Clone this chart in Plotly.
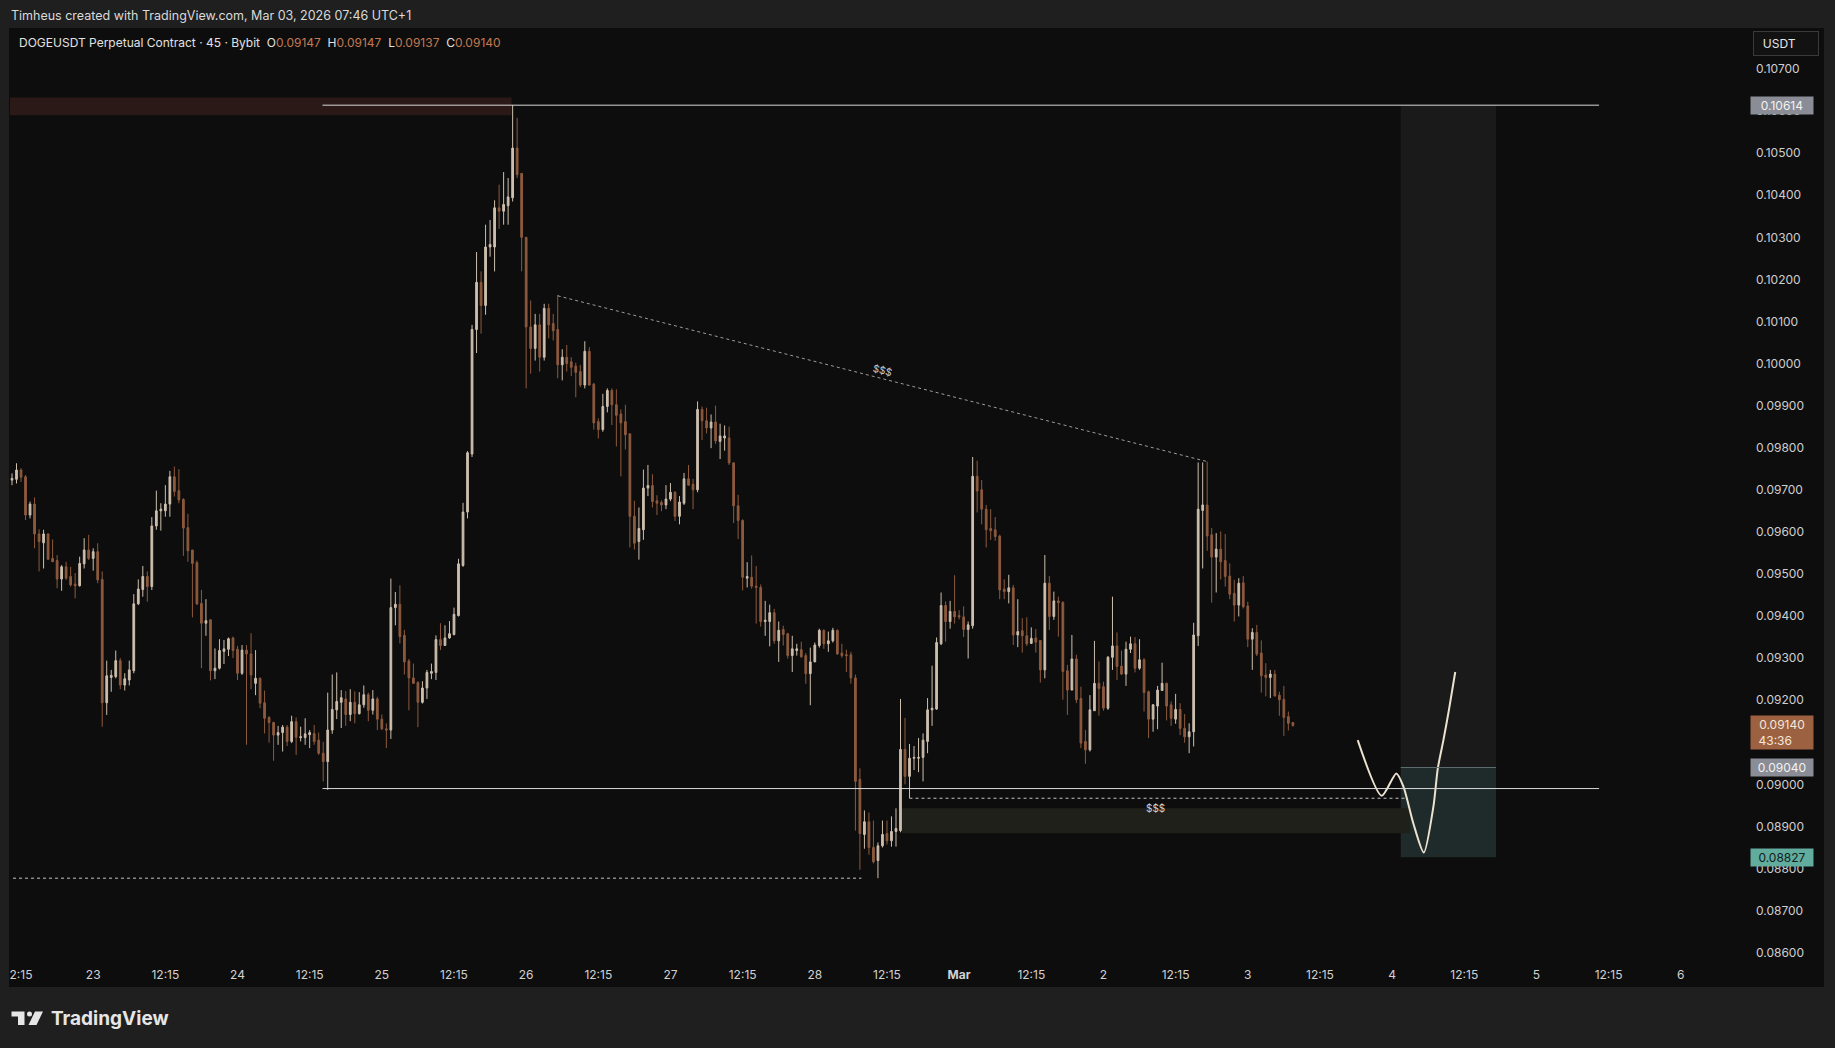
import pandas as pd
import plotly.graph_objects as go

# ---------------- DATA (prices in units of 0.00001 USDT) ----------------
open_v = [
    9723, 9725, 9747, 9731, 9640, 9666, 9595, 9574, 9595, 9537,
    9532, 9488, 9517, 9494, 9476, 9472, 9524, 9557, 9537, 9553,
    9487, 9194, 9254, 9256, 9294, 9236, 9248, 9270, 9429, 9463,
    9494, 9470, 9614, 9650, 9650, 9666, 9731, 9698, 9677, 9610,
    9557, 9527, 9430, 9383, 9391, 9270, 9276, 9316, 9321, 9348,
    9321, 9264, 9319, 9310, 9240, 9252, 9194, 9159, 9147, 9117,
    9123, 9136, 9102, 9149, 9111, 9111, 9118, 9121, 9105, 9074,
    9054, 9129, 9177, 9195, 9203, 9166, 9195, 9168, 9189, 9213,
    9176, 9203, 9155, 9132, 9129, 9420, 9428, 9354, 9293, 9253,
    9242, 9195, 9229, 9264, 9266, 9344, 9330, 9348, 9356, 9401,
    9520, 9647, 9785, 10081, 10193, 10138, 10277, 10277, 10370, 10362,
    10375, 10394, 10512, 10452, 10300, 10087, 10036, 10092, 10015, 10131,
    10095, 10081, 9997, 10015, 10004, 9994, 9981, 9949, 10029, 9951,
    9862, 9843, 9898, 9936, 9902, 9880, 9862, 9833, 9637, 9577,
    9605, 9704, 9710, 9674, 9670, 9664, 9678, 9694, 9637, 9668,
    9726, 9713, 9700, 9891, 9864, 9847, 9861, 9815, 9823, 9823,
    9764, 9662, 9627, 9490, 9492, 9471, 9468, 9387, 9387, 9408,
    9341, 9368, 9358, 9306, 9318, 9320, 9306, 9263, 9291, 9330,
    9366, 9334, 9341, 9366, 9312, 9308, 9308, 9253, 9012, 8881,
    8911, 8850, 8819, 8854, 8883, 8866, 8888, 8890, 9083, 9019,
    9062, 9062, 9064, 9102, 9177, 9179, 9334, 9425, 9387, 9411,
    9401, 9398, 9368, 9377, 9732, 9700, 9654, 9608, 9605, 9590,
    9464, 9458, 9467, 9355, 9365, 9353, 9335, 9348, 9342, 9272,
    9478, 9399, 9436, 9433, 9270, 9224, 9298, 9204, 9102, 9082,
    9175, 9240, 9232, 9181, 9302, 9329, 9281, 9262, 9321, 9334,
    9276, 9296, 9220, 9155, 9186, 9223, 9240, 9189, 9155, 9178,
    9133, 9113, 9125, 9353, 9651, 9664, 9593, 9540, 9559, 9532,
    9495, 9454, 9426, 9479, 9424, 9345, 9361, 9312, 9260, 9254,
    9262, 9212, 9202, 9161, 9147,
]
high_v = [
    9739, 9763, 9751, 9735, 9672, 9682, 9606, 9605, 9597, 9582,
    9545, 9521, 9529, 9517, 9502, 9541, 9585, 9593, 9561, 9573,
    9506, 9294, 9272, 9318, 9300, 9264, 9294, 9452, 9487, 9519,
    9506, 9635, 9698, 9668, 9711, 9745, 9755, 9749, 9680, 9643,
    9557, 9532, 9462, 9440, 9392, 9323, 9345, 9343, 9349, 9351,
    9329, 9331, 9331, 9359, 9319, 9254, 9223, 9162, 9149, 9139,
    9141, 9141, 9163, 9159, 9137, 9157, 9129, 9141, 9123, 9101,
    9218, 9261, 9266, 9224, 9222, 9226, 9221, 9219, 9235, 9218,
    9224, 9208, 9166, 9145, 9489, 9457, 9473, 9367, 9298, 9287,
    9245, 9245, 9272, 9287, 9354, 9383, 9378, 9388, 9420, 9536,
    9669, 9792, 10092, 10265, 10219, 10330, 10341, 10388, 10425, 10455,
    10441, 10614, 10584, 10452, 10300, 10150, 10118, 10118, 10142, 10142,
    10118, 10163, 10034, 10044, 10015, 10002, 9997, 10053, 10039, 9954,
    9870, 9928, 9941, 9941, 9939, 9891, 9902, 9833, 9674, 9658,
    9748, 9759, 9737, 9687, 9675, 9711, 9716, 9697, 9685, 9740,
    9759, 9726, 9910, 9898, 9895, 9879, 9900, 9857, 9853, 9850,
    9764, 9688, 9630, 9528, 9544, 9519, 9475, 9436, 9427, 9417,
    9387, 9377, 9360, 9353, 9334, 9339, 9312, 9325, 9337, 9370,
    9368, 9363, 9372, 9368, 9334, 9320, 9315, 9261, 9038, 8938,
    8933, 8914, 8862, 8914, 8914, 8924, 8943, 9203, 9158, 9096,
    9091, 9110, 9121, 9205, 9282, 9349, 9456, 9435, 9436, 9497,
    9414, 9423, 9387, 9778, 9769, 9723, 9664, 9654, 9635, 9593,
    9487, 9498, 9474, 9440, 9395, 9397, 9373, 9369, 9343, 9545,
    9495, 9458, 9446, 9434, 9284, 9355, 9308, 9232, 9129, 9212,
    9341, 9292, 9244, 9305, 9446, 9361, 9318, 9339, 9351, 9350,
    9345, 9300, 9223, 9191, 9234, 9289, 9242, 9197, 9215, 9193,
    9167, 9145, 9384, 9765, 9765, 9767, 9609, 9597, 9601, 9595,
    9525, 9486, 9490, 9495, 9434, 9371, 9379, 9342, 9288, 9272,
    9272, 9220, 9234, 9173, 9147,
]
low_v = [
    9711, 9715, 9719, 9628, 9632, 9561, 9506, 9513, 9533, 9529,
    9466, 9460, 9486, 9470, 9442, 9470, 9513, 9533, 9508, 9478,
    9137, 9165, 9220, 9252, 9226, 9223, 9235, 9264, 9426, 9446,
    9434, 9462, 9605, 9603, 9636, 9636, 9684, 9668, 9543, 9529,
    9397, 9426, 9276, 9353, 9247, 9250, 9273, 9286, 9305, 9300,
    9248, 9260, 9094, 9226, 9212, 9181, 9121, 9099, 9056, 9094,
    9078, 9091, 9098, 9070, 9102, 9094, 9086, 9094, 9070, 9007,
    8987, 9120, 9155, 9134, 9139, 9150, 9145, 9166, 9182, 9150,
    9166, 9129, 9129, 9086, 9108, 9378, 9335, 9261, 9176, 9240,
    9136, 9192, 9203, 9250, 9248, 9319, 9330, 9346, 9354, 9399,
    9517, 9632, 9778, 10025, 10071, 10116, 10254, 10219, 10320, 10330,
    10330, 10385, 10441, 10219, 9941, 9976, 10007, 9981, 10007, 10060,
    10055, 9965, 9960, 9981, 9970, 9920, 9944, 9941, 9947, 9843,
    9822, 9838, 9884, 9854, 9803, 9732, 9796, 9563, 9558, 9534,
    9581, 9685, 9658, 9640, 9649, 9654, 9673, 9626, 9618, 9664,
    9710, 9654, 9694, 9818, 9834, 9799, 9809, 9773, 9793, 9759,
    9621, 9583, 9461, 9468, 9465, 9382, 9375, 9353, 9328, 9334,
    9291, 9330, 9299, 9267, 9306, 9301, 9239, 9188, 9291, 9325,
    9322, 9315, 9337, 9308, 9301, 9267, 9239, 8890, 8797, 8847,
    8833, 8812, 8777, 8850, 8857, 8852, 8852, 8886, 9000, 8967,
    9034, 9029, 9007, 9074, 9139, 9177, 9331, 9339, 9370, 9382,
    9392, 9350, 9299, 9370, 9646, 9618, 9563, 9581, 9579, 9440,
    9440, 9430, 9331, 9326, 9313, 9329, 9334, 9313, 9242, 9252,
    9367, 9391, 9351, 9201, 9165, 9224, 9193, 9086, 9049, 9078,
    9175, 9163, 9175, 9177, 9272, 9248, 9260, 9234, 9312, 9266,
    9272, 9173, 9110, 9125, 9131, 9223, 9152, 9139, 9144, 9117,
    9099, 9074, 9090, 9329, 9513, 9555, 9432, 9456, 9487, 9470,
    9440, 9387, 9399, 9418, 9326, 9272, 9305, 9218, 9209, 9205,
    9209, 9163, 9115, 9128, 9137,
]
close_v = [
    9727, 9747, 9730, 9640, 9666, 9595, 9577, 9595, 9535, 9529,
    9488, 9517, 9490, 9474, 9472, 9525, 9557, 9537, 9553, 9486,
    9194, 9258, 9259, 9294, 9236, 9251, 9272, 9429, 9464, 9494,
    9470, 9614, 9650, 9654, 9666, 9731, 9696, 9676, 9609, 9555,
    9525, 9429, 9383, 9389, 9270, 9276, 9318, 9322, 9346, 9318,
    9264, 9319, 9310, 9260, 9252, 9193, 9157, 9147, 9117, 9123,
    9136, 9102, 9149, 9112, 9113, 9120, 9123, 9102, 9074, 9054,
    9129, 9178, 9197, 9206, 9166, 9195, 9168, 9189, 9213, 9176,
    9203, 9155, 9132, 9129, 9420, 9428, 9351, 9291, 9253, 9240,
    9195, 9229, 9266, 9268, 9344, 9330, 9348, 9358, 9404, 9524,
    9647, 9788, 10081, 10193, 10138, 10277, 10283, 10370, 10362, 10378,
    10396, 10512, 10449, 10300, 10087, 10036, 10092, 10015, 10131, 10092,
    10078, 9997, 10015, 10000, 9991, 9979, 9949, 10029, 9949, 9859,
    9843, 9898, 9936, 9902, 9877, 9859, 9831, 9637, 9573, 9608,
    9704, 9710, 9672, 9668, 9664, 9678, 9694, 9637, 9671, 9726,
    9711, 9700, 9891, 9864, 9847, 9861, 9816, 9828, 9828, 9764,
    9662, 9627, 9492, 9494, 9471, 9468, 9387, 9390, 9408, 9341,
    9366, 9356, 9306, 9322, 9322, 9303, 9263, 9291, 9331, 9366,
    9334, 9341, 9366, 9310, 9306, 9306, 9253, 9007, 8883, 8911,
    8850, 8816, 8854, 8881, 8866, 8888, 8895, 9083, 9019, 9062,
    9064, 9064, 9105, 9177, 9181, 9337, 9425, 9387, 9411, 9398,
    9398, 9368, 9379, 9732, 9697, 9654, 9605, 9603, 9589, 9462,
    9458, 9467, 9355, 9363, 9353, 9334, 9347, 9338, 9272, 9478,
    9399, 9436, 9432, 9268, 9224, 9298, 9201, 9098, 9082, 9177,
    9240, 9228, 9181, 9302, 9329, 9280, 9262, 9321, 9334, 9276,
    9296, 9218, 9155, 9189, 9224, 9240, 9186, 9157, 9178, 9133,
    9113, 9125, 9355, 9654, 9664, 9590, 9540, 9559, 9529, 9494,
    9452, 9426, 9478, 9422, 9345, 9361, 9310, 9258, 9254, 9262,
    9210, 9201, 9159, 9145, 9140,
]
first_candle = "2026-02-22 10:45"
candle_freq = "45min"

# x-axis tick labels
tick_times = ["2026-02-22 12:15", "2026-02-23 00:15", "2026-02-23 12:15", "2026-02-24 00:15",
              "2026-02-24 12:15", "2026-02-25 00:15", "2026-02-25 12:15", "2026-02-26 00:15",
              "2026-02-26 12:15", "2026-02-27 00:15", "2026-02-27 12:15", "2026-02-28 00:15",
              "2026-02-28 12:15", "2026-03-01 00:15", "2026-03-01 12:15", "2026-03-02 00:15",
              "2026-03-02 12:15", "2026-03-03 00:15", "2026-03-03 12:15", "2026-03-04 00:15",
              "2026-03-04 12:15", "2026-03-05 00:15", "2026-03-05 12:15", "2026-03-06 00:15"]
tick_text = ["2:15", "23", "12:15", "24", "12:15", "25", "12:15", "26", "12:15", "27", "12:15",
             "28", "12:15", "<b>Mar</b>", "12:15", "2", "12:15", "3", "12:15", "4", "12:15", "5",
             "12:15", "6"]
price_ticks = [0.086, 0.087, 0.088, 0.089, 0.090, 0.091, 0.092, 0.093, 0.094, 0.095, 0.096,
               0.097, 0.098, 0.099, 0.100, 0.101, 0.102, 0.103, 0.104, 0.105, 0.106, 0.107]

# drawing levels
target_price = 0.10614
entry_price = 0.09040
stop_price = 0.08827
range_low = 0.08990
sweep_low = 0.08777
inner_low = 0.08967
red_zone = (0.10590, 0.10632)
olive_zone = (0.08884, 0.08943)
trend_t = ["2026-02-26 05:30", "2026-03-02 17:30"]
trend_p = [0.10161, 0.09767]
curve_t = ["2026-03-03 18:32", "2026-03-03 22:31", "2026-03-04 00:57", "2026-03-04 02:09",
           "2026-03-04 03:47", "2026-03-04 05:31", "2026-03-04 07:07", "2026-03-04 07:51",
           "2026-03-04 08:47", "2026-03-04 09:42", "2026-03-04 10:45"]
curve_p = [0.09105, 0.08973, 0.09026, 0.08994, 0.08907, 0.08838, 0.08947, 0.09038,
           0.09105, 0.09177, 0.09267]
countdown = "43:36"

# ---------------- STYLE ----------------
FRAME = "#1f1f1f"
PANE = "#0e0d0d"
UP = "#cdbfae"
DN = "#8d5a3e"
TXT = "#d1d1d1"
FONT = "Inter, Roboto, sans-serif"

W, H = 1835, 1048
PL, PR, PT, PB = 10, 1745, 28, 960


def fx(px):
    return (px - PL) / (PR - PL)


def fy(py):
    return (PB - py) / (PB - PT)


times = pd.date_range(first_candle, periods=len(close_v), freq=candle_freq)
s = 1e-5
O = [v * s for v in open_v]
Hh = [v * s for v in high_v]
L = [v * s for v in low_v]
C = [v * s for v in close_v]

fig = go.Figure()
fig.add_trace(go.Candlestick(
    x=times, open=O, high=Hh, low=L, close=C,
    increasing=dict(line=dict(color=UP, width=1), fillcolor=UP),
    decreasing=dict(line=dict(color=DN, width=1), fillcolor=DN),
    whiskerwidth=0, hoverinfo="skip", showlegend=False,
))
fig.add_trace(go.Scatter(
    x=curve_t, y=curve_p, mode="lines",
    line=dict(color="#ece2d0", width=2, shape="spline", smoothing=0.7),
    hoverinfo="skip", showlegend=False,
))

shapes = []
# pane background (price scale + time scale area)
shapes.append(dict(type="rect", xref="paper", yref="paper", x0=fx(9), x1=fx(1824),
                   y0=fy(987), y1=fy(PT), fillcolor=PANE, line=dict(width=0), layer="below"))
# zones
shapes.append(dict(type="rect", xref="x", yref="y", x0="2026-02-21 00:00", x1="2026-02-25 21:50",
                   y0=red_zone[0], y1=red_zone[1], fillcolor="#2a1916", line=dict(width=0), layer="below"))
shapes.append(dict(type="rect", xref="x", yref="y", x0="2026-03-04 01:41", x1="2026-03-04 17:32",
                   y0=entry_price, y1=target_price, fillcolor="#1b1a1a", line=dict(width=0), layer="below"))
shapes.append(dict(type="rect", xref="x", yref="y", x0="2026-03-04 01:41", x1="2026-03-04 17:32",
                   y0=stop_price, y1=entry_price, fillcolor="#1f2b2a", line=dict(width=0), layer="below"))
shapes.append(dict(type="rect", xref="x", yref="y", x0="2026-02-28 14:45", x1="2026-03-04 03:15",
                   y0=olive_zone[0], y1=olive_zone[1], fillcolor="#1f2019", line=dict(width=0), layer="below"))
shapes.append(dict(type="line", xref="x", yref="y", x0="2026-03-04 01:41", x1="2026-03-04 17:32",
                   y0=entry_price, y1=entry_price, line=dict(color="#5e6e72", width=1)))
# horizontal levels
for lvl in (target_price, range_low):
    shapes.append(dict(type="line", xref="x", yref="y", x0="2026-02-24 14:23", x1="2026-03-05 10:40",
                       y0=lvl, y1=lvl, line=dict(color="#d9d9d9", width=1)))
shapes.append(dict(type="line", xref="x", yref="y", x0="2026-02-21 00:00", x1="2026-02-28 08:00",
                   y0=sweep_low, y1=sweep_low, line=dict(color="#c4c4c4", width=1, dash="dot")))
shapes.append(dict(type="line", xref="x", yref="y", x0="2026-02-28 16:00", x1="2026-03-04 02:34",
                   y0=inner_low, y1=inner_low, line=dict(color="#c4c4c4", width=1, dash="dot")))
shapes.append(dict(type="line", xref="x", yref="y", x0=trend_t[0], x1=trend_t[1],
                   y0=trend_p[0], y1=trend_p[1], line=dict(color="#9d9d9d", width=1, dash="dot")))

# TradingView logo icon
def path(pts):
    return "M" + " L".join(f"{fx(a):.6f},{fy(b):.6f}" for a, b in pts) + " Z"


shapes.append(dict(type="path", xref="paper", yref="paper",
                   path=path([(11.5, 1011.5), (24.5, 1011.5), (24.5, 1025), (18, 1025), (18, 1016.5), (11.5, 1016.5)]),
                   fillcolor="#e6e6e6", line=dict(width=0)))
shapes.append(dict(type="circle", xref="paper", yref="paper", x0=fx(27), x1=fx(32), y0=fy(1016.5), y1=fy(1011.5),
                   fillcolor="#e6e6e6", line=dict(width=0)))
shapes.append(dict(type="path", xref="paper", yref="paper",
                   path=path([(35, 1011.5), (43, 1011.5), (36.5, 1025), (28.5, 1025)]),
                   fillcolor="#e6e6e6", line=dict(width=0)))

ann = []
ann.append(dict(text="Timheus created with TradingView.com, Mar 03, 2026 07:46 UTC+1",
                xref="paper", yref="paper", x=fx(9), y=fy(15.5), xanchor="left", yanchor="middle",
                showarrow=False, font=dict(family=FONT, size=12.5, color="#dadada")))
vc = "#c27a52"
legend = ("DOGEUSDT Perpetual Contract · 45 · Bybit&nbsp;&nbsp;"
          f"O<span style='color:{vc}'>{O[-1]:.5f}</span>&nbsp;&nbsp;"
          f"H<span style='color:{vc}'>{Hh[-1]:.5f}</span>&nbsp;&nbsp;"
          f"L<span style='color:{vc}'>{L[-1]:.5f}</span>&nbsp;&nbsp;"
          f"C<span style='color:{vc}'>{C[-1]:.5f}</span>")
ann.append(dict(text=legend, xref="paper", yref="paper", x=fx(17), y=fy(42.5), xanchor="left",
                yanchor="middle", showarrow=False, font=dict(family=FONT, size=12, color="#e2e2e2")))
ann.append(dict(text="$$$", xref="x", yref="y", x="2026-02-28 11:30", y=0.09985, textangle=14.4,
                showarrow=False, font=dict(family=FONT, size=10, color="#cfcfcf")))
ann.append(dict(text="$$$", xref="x", yref="y", x="2026-03-02 08:50", y=0.08945,
                showarrow=False, font=dict(family=FONT, size=10, color="#cfcfcf")))
# price scale labels
for price, bg, fc in ((target_price, "#8a8d96", "#f2f2f2"), (entry_price, "#8a8d96", "#f2f2f2"),
                      (stop_price, "#62ac9e", "#10201d")):
    ann.append(dict(text=f"{price:.5f}", xref="paper", yref="y", x=fx(1750), y=price,
                    xanchor="left", yanchor="middle", showarrow=False, bgcolor=bg, width=60, height=15,
                    borderpad=1, align="center", font=dict(family=FONT, size=12, color=fc)))
ann.append(dict(text=f"{C[-1]:.5f}<br>{countdown}&nbsp;&nbsp;&nbsp;&nbsp;", xref="paper", yref="y",
                x=fx(1750), y=C[-1], yshift=-7, xanchor="left", yanchor="middle", showarrow=False,
                bgcolor="#9b6141", width=60, borderpad=1, align="center",
                font=dict(family=FONT, size=12, color="#f3e6dc")))
ann.append(dict(text="&nbsp;&nbsp;USDT", xref="paper", yref="paper", x=fx(1753), y=fy(43),
                xanchor="left", yanchor="middle", showarrow=False, bgcolor="#121212",
                bordercolor="#3a3a3a", borderwidth=1, borderpad=2, width=60, height=19, align="left",
                font=dict(family=FONT, size=12, color="#e6e6e6")))
ann.append(dict(text="<b>TradingView</b>", xref="paper", yref="paper", x=fx(49), y=fy(1018.5),
                xanchor="left", yanchor="middle", showarrow=False,
                font=dict(family=FONT, size=19, color="#e6e6e6")))

fig.update_layout(
    width=W, height=H,
    margin=dict(l=PL, r=W - PR, t=PT, b=H - PB, pad=0),
    paper_bgcolor=FRAME, plot_bgcolor=PANE,
    shapes=shapes, annotations=ann,
    boxgap=0.45, showlegend=False, hovermode=False,
    font=dict(family=FONT, color=TXT),
)
fig.update_xaxes(
    type="date", range=["2026-02-22 10:25", "2026-03-06 10:56"],
    rangeslider=dict(visible=False), showgrid=False, zeroline=False, showline=False,
    tickvals=tick_times, ticktext=tick_text, ticks="", ticklabelstandoff=6,
    tickfont=dict(family=FONT, size=12, color="#d1d1d1"),
)
fig.update_yaxes(
    range=[0.085826, 0.107974], side="right", showgrid=False, zeroline=False, showline=False,
    tickvals=price_ticks, ticktext=[f"{p:.5f}" for p in price_ticks], ticks="", ticklabelstandoff=10,
    tickfont=dict(family=FONT, size=12, color="#cfcfcf"),
)
fig.write_html(
    "out.html",
    config={"displayModeBar": False},
    post_script="document.body.style.margin='0';document.body.style.padding='0';"
                "document.body.style.background='#1f1f1f';",
)
